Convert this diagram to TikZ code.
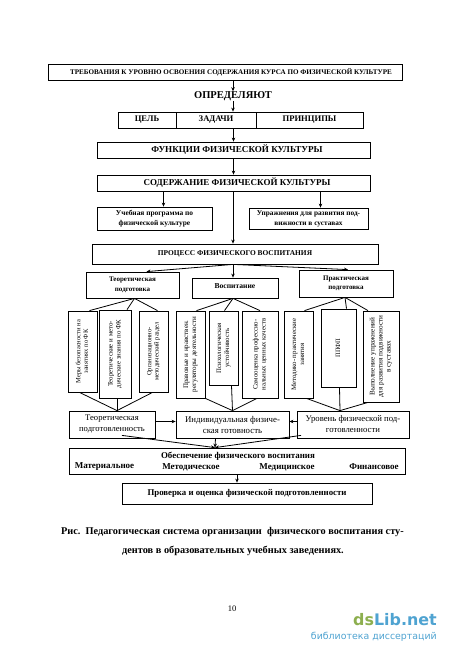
\documentclass[tikz,border=0pt]{standalone}
\usepackage{fontspec}
\setmainfont{Liberation Serif}
\newfontfamily\markfont{DejaVu Sans}
\usepackage{xcolor}
\usetikzlibrary{arrows.meta, calc}
\definecolor{markgreen}{HTML}{8DAF4F}
\definecolor{markblue}{HTML}{4FA3D1}
\newcommand{\vlab}[1]{\rotatebox{90}{\begin{tabular}{@{}c@{}}#1\end{tabular}}}
\tikzset{
box/.style={draw, line width=0.8pt, inner sep=0pt, align=center},
plain/.style={inner sep=0pt, align=center},
vbox/.style={box, font=\fontsize{6.5}{7.5}\selectfont},
lnk/.style={line width=0.8pt},
arr/.style={line width=0.8pt, -{Stealth[length=4pt,width=3.5pt]}}
}
\begin{document}
\begin{tikzpicture}[x=1pt, y=-1pt]
\useasboundingbox (0,0) rectangle (450,657);
\node[box, minimum width=354, minimum height=16, font=\bfseries\fontsize{7.1}{8}\selectfont] (req) at (225,72) {\hspace*{12pt}ТРЕБОВАНИЯ К УРОВНЮ ОСВОЕНИЯ СОДЕРЖАНИЯ КУРСА ПО ФИЗИЧЕСКОЙ КУЛЬТУРЕ};
\node[plain, font=\bfseries\fontsize{10.5}{12}\selectfont] (opr) at (233,96) {ОПРЕДЕЛЯЮТ};
\node[box, minimum width=58, minimum height=16, font=\bfseries\fontsize{8.6}{9}\selectfont] (goal) at (147,120) {ЦЕЛЬ};
\node[box, minimum width=80, minimum height=16, font=\bfseries\fontsize{8.6}{9}\selectfont] (tasks) at (216,120) {ЗАДАЧИ};
\node[box, minimum width=107, minimum height=16, font=\bfseries\fontsize{8.6}{9}\selectfont] (princ) at (309.5,120) {ПРИНЦИПЫ};
\node[box, minimum width=273, minimum height=16, font=\bfseries\fontsize{9.1}{10}\selectfont] (func) at (233.5,150) {\hspace*{7pt}ФУНКЦИИ ФИЗИЧЕСКОЙ КУЛЬТУРЫ};
\node[box, minimum width=273, minimum height=16, font=\bfseries\fontsize{9}{10}\selectfont] (cont) at (233.5,183) {\hspace*{7pt}СОДЕРЖАНИЕ ФИЗИЧЕСКОЙ КУЛЬТУРЫ};
\node[box, minimum width=115, minimum height=23, font=\bfseries\fontsize{7.4}{10}\selectfont] (prog) at (154.5,218.5) {Учебная программа по\\физической культуре};
\node[box, minimum width=119, minimum height=21, font=\bfseries\fontsize{7.3}{10}\selectfont] (upr) at (308.5,218.5) {Упражнения для развития под-\\вижности в суставах};
\node[box, minimum width=286, minimum height=20, font=\bfseries\fontsize{7.4}{8}\selectfont] (proc) at (235,254) {ПРОЦЕСС ФИЗИЧЕСКОГО ВОСПИТАНИЯ};
\node[box, minimum width=93, minimum height=26, font=\bfseries\fontsize{7}{9.5}\selectfont] (theor) at (132.5,285) {Теоретическая\\подготовка};
\node[box, minimum width=86, minimum height=20, font=\bfseries\fontsize{7.6}{9}\selectfont] (vosp) at (235,288) {\raisebox{3pt}{Воспитание}};
\node[box, minimum width=94, minimum height=27, font=\bfseries\fontsize{7}{9.5}\selectfont] (prak) at (346,283.5) {Практическая\\подготовка};
\node[vbox, minimum width=29, minimum height=81] (tA) at (82.5,351.5) {\vlab{Меры безопасности на\\занятиях по ФК}};
\node[vbox, minimum width=32, minimum height=88, font=\fontsize{6.8}{8}\selectfont] (tB) at (115,354) {\vlab{Теоретические и мето-\\дические знания по ФК}};
\node[vbox, minimum width=29, minimum height=81] (tC) at (153.5,351.5) {\vlab{Организационно-\\методический раздел}};
\node[vbox, minimum width=29, minimum height=87, font=\fontsize{7}{8}\selectfont] (vA) at (190.5,354.5) {\vlab{Правовые и нравствен.\\регуляторы деятельности}};
\node[vbox, minimum width=29, minimum height=74, font=\fontsize{6.8}{8}\selectfont] (vB) at (223.5,348) {\vlab{Психологическая\\устойчивость}};
\node[vbox, minimum width=36, minimum height=87, font=\fontsize{6.8}{8}\selectfont] (vC) at (260,354.5) {\vlab{Самооценка профессио-\\нальных ценных качеств}};
\node[vbox, minimum width=29, minimum height=87, font=\fontsize{6.8}{8}\selectfont] (pA) at (298.5,354.5) {\vlab{Методико- практические\\занятия}};
\node[vbox, minimum width=35, minimum height=78] (pB) at (338.5,348) {\vlab{ППФП}};
\node[vbox, minimum width=36, minimum height=91, font=\fontsize{7.2}{8}\selectfont] (pC) at (381,356.5) {\vlab{Выполнение упражнений\\для развития подвижности\\в суставах}};
\node[box, minimum width=86, minimum height=27, font=\fontsize{8.6}{11}\selectfont] (resT) at (112,424.5) {Теоретическая\\подготовленность};
\node[box, minimum width=113, minimum height=27, font=\fontsize{8.8}{11}\selectfont] (resV) at (232.5,424.5) {Индивидуальная физиче-\\ская готовность};
\node[box, minimum width=112, minimum height=27, font=\fontsize{8.7}{11}\selectfont] (resP) at (353,424.5) {Уровень физической под-\\готовленности};
\node[box, minimum width=336, minimum height=26] (sup) at (237,461) {};
\node[plain, font=\bfseries\fontsize{8.9}{10}\selectfont] (supT) at (238,456.5) {Обеспечение физического воспитания};
\node[plain, font=\bfseries\fontsize{9}{10}\selectfont] (supA) at (104.5,467) {Материальное};
\node[plain, font=\bfseries\fontsize{9}{10}\selectfont] (supB) at (191,467) {Методическое};
\node[plain, font=\bfseries\fontsize{9}{10}\selectfont] (supC) at (287,467) {Медицинское};
\node[plain, font=\bfseries\fontsize{9}{10}\selectfont] (supD) at (374,467) {Финансовое};
\node[box, minimum width=250, minimum height=21, font=\bfseries\fontsize{8.8}{10}\selectfont] (chk) at (247,493.5) {Проверка и оценка физической подготовленности};
\node[plain, font=\bfseries\fontsize{10.3}{12}\selectfont] (capA) at (232.5,532) {Рис.\ \ Педагогическая система организации\ \ физического воспитания сту-};
\node[plain, font=\bfseries\fontsize{10.3}{12}\selectfont] (capB) at (233,551) {дентов в образовательных учебных заведениях.};
\node[plain, font=\fontsize{8.5}{10}\selectfont] (pagenum) at (232,609) {10};
\node[plain, font=\markfont\bfseries\fontsize{15.9}{18}\selectfont, anchor=east] (mark) at (437,620) {\textcolor{markgreen}{ds}\textcolor{markblue}{Lib.net}};
\node[plain, font=\markfont\fontsize{9.4}{11}\selectfont, text=markblue, anchor=east] (markB) at (437,637) {библиотека диссертаций};
\draw[arr] (opr.north |- req.south) -- (opr.north);
\draw[arr] (opr.south) -- (opr.south |- tasks.north);
\draw[arr] (func.north |- tasks.south) -- (func.north);
\draw[arr] (func.south) -- (cont.north);
\draw[arr] ([xshift=9pt]prog.north |- cont.south) -- ([xshift=9pt]prog.north);
\draw[arr] ([xshift=12pt]upr.north |- cont.south) -- ([xshift=12pt]upr.north);
\draw[arr] ([xshift=-2pt]proc.north |- cont.south) -- ([xshift=-2pt]proc.north);
\draw[arr] ([xshift=-2pt]proc.south) -- ([xshift=14pt]theor.north);
\draw[arr] ([xshift=-2pt]proc.south) -- ([xshift=-2pt]vosp.north);
\draw[arr] ([xshift=-2pt]proc.south) -- ([xshift=2pt]prak.north);
\draw[lnk] ([xshift=2pt]theor.south) -- ([xshift=7pt]tA.north);
\draw[lnk] ([xshift=2pt]theor.south) -- ([xshift=12pt]tB.north);
\draw[lnk] ([xshift=2pt]theor.south) -- ([xshift=4pt]tC.north);
\draw[lnk] ([xshift=-2pt]vosp.south) -- ([xshift=6pt]vA.north);
\draw[lnk] ([xshift=-2pt]vosp.south) -- ([xshift=1pt]vB.north);
\draw[lnk] ([xshift=-2pt]vosp.south) -- (vC.north);
\draw[lnk] ([xshift=-1pt]prak.south) -- ([xshift=6pt]pA.north);
\draw[lnk] ([xshift=-1pt]prak.south) -- ([xshift=8pt]pB.north);
\draw[lnk] ([xshift=-1pt]prak.south) -- ([xshift=-13pt]pC.north);
\draw[lnk] ([xshift=-3pt]tA.south) -- ([xshift=5pt]resT.north);
\draw[lnk] ([xshift=2pt]tB.south) -- ([xshift=5pt]resT.north);
\draw[lnk] ([xshift=-1pt]tC.south) -- ([xshift=5pt]resT.north);
\draw[lnk] (vA.south east) -- (resV.north);
\draw[lnk] ([xshift=8pt]vB.south) -- (resV.north);
\draw[lnk] ([xshift=-3pt]vC.south) -- (resV.north);
\draw[lnk] ([xshift=8pt]pA.south) -- ([xshift=-13pt]resP.north);
\draw[lnk] ([xshift=1pt]pB.south) -- ([xshift=-13pt]resP.north);
\draw[lnk] ([xshift=-13pt]pC.south) -- ([xshift=-13pt]resP.north);
\draw[arr] ([yshift=3pt]resT.east) -- ([yshift=3pt]resV.west);
\draw[arr] ([yshift=3pt]resP.west) -- ([yshift=3pt]resV.east);
\draw[arr] ([xshift=10pt,yshift=3pt]resT.south) -- ([xshift=-22pt]sup.north);
\draw[arr] ([xshift=-17pt]resV.south) -- ([xshift=-22pt]sup.north);
\draw[arr] ([xshift=-52pt,yshift=3pt]resP.south) -- ([xshift=-22pt]sup.north);
\draw[arr] (sup.south) -- (sup.south |- chk.north);
\end{tikzpicture}
\end{document}
